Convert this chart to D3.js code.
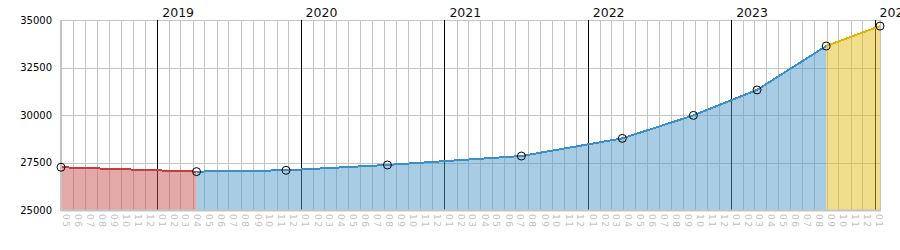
<!DOCTYPE html>
<html>
<head>
<meta charset="utf-8">
<script src="https://cdn.jsdelivr.net/npm/d3@7"></script>
<style>
  body { margin: 0; background: #fff; }
  svg { display: block; font-family: "DejaVu Sans", Verdana, sans-serif; }
</style>
</head>
<body>
<div id="vis"></div>
<script>
(function () {
  'use strict';

  var DATES = ['2018-05-01', '2019-04-11', '2019-11-25', '2020-08-09', '2021-07-16',
               '2022-03-30', '2022-09-27', '2023-03-08', '2023-08-31', '2024-01-15'];
  var VALUES = [27250, 27020, 27090, 27370, 27840, 28770, 29980, 31320, 33630, 34680];
  // each segment covers a range of point indices
  var SEGMENTS = [
    { from: 0, to: 1, line: '#c83c3c', fill: '#c75151' },
    { from: 1, to: 8, line: '#3a8fc6', fill: '#5199c9' },
    { from: 8, to: 9, line: '#e6b400', fill: '#e1bd19' }
  ];
  var Y_TICKS = [25000, 27500, 30000, 32500, 35000];
  var X_START = '2018-05-01';
  var X_END = '2024-01-15';

  var WIDTH = 900;
  var HEIGHT = 250;
  var LEFT = 61, RIGHT = 880, TOP = 20, BOTTOM = 210;
  var GRID = '#c4c4c4';

  var parse = d3.timeParse('%Y-%m-%d');
  var points = DATES.map(function (d, i) { return { date: parse(d), value: VALUES[i] }; });

  var x = d3.scaleTime().domain([parse(X_START), parse(X_END)]).range([LEFT, RIGHT]);
  var y = d3.scaleLinear().domain([25000, 35000]).range([BOTTOM, TOP]);

  var months = d3.timeMonth.range(parse(X_START), d3.timeDay.offset(parse(X_END), 1));
  var years = months.filter(function (m) { return m.getMonth() === 0; });

  var svg = d3.select('#vis').append('svg')
    .attr('width', WIDTH)
    .attr('height', HEIGHT);

  // grid
  var grid = svg.append('g');
  grid.selectAll('line.h').data(Y_TICKS).enter().append('line')
    .attr('x1', LEFT).attr('x2', RIGHT)
    .attr('y1', function (d) { return Math.round(y(d)) + 0.5; })
    .attr('y2', function (d) { return Math.round(y(d)) + 0.5; })
    .attr('stroke', GRID).attr('stroke-width', 1);
  grid.selectAll('line.m').data(months).enter().append('line')
    .attr('x1', function (d) { return Math.round(x(d)) + 0.5; })
    .attr('x2', function (d) { return Math.round(x(d)) + 0.5; })
    .attr('y1', TOP).attr('y2', BOTTOM)
    .attr('stroke', function (d) { return d.getMonth() === 0 ? '#000' : GRID; })
    .attr('stroke-width', 1);
  grid.append('line')
    .attr('x1', RIGHT + 0.5).attr('x2', RIGHT + 0.5).attr('y1', TOP).attr('y2', BOTTOM)
    .attr('stroke', GRID);

  // areas + lines
  var area = d3.area()
    .x(function (d) { return x(d.date); })
    .y0(BOTTOM)
    .y1(function (d) { return y(d.value); });
  var line = d3.line()
    .x(function (d) { return x(d.date); })
    .y(function (d) { return y(d.value); });

  SEGMENTS.forEach(function (s) {
    var seg = points.slice(s.from, s.to + 1);
    svg.append('path').datum(seg)
      .attr('d', area)
      .attr('fill', s.fill)
      .attr('fill-opacity', 0.5);
  });
  SEGMENTS.forEach(function (s) {
    var seg = points.slice(s.from, s.to + 1);
    svg.append('path').datum(seg)
      .attr('d', line)
      .attr('fill', 'none')
      .attr('stroke', s.line)
      .attr('stroke-width', 2)
      .attr('shape-rendering', 'crispEdges');
  });

  // frame: left and bottom
  svg.append('line').attr('x1', LEFT).attr('x2', LEFT).attr('y1', TOP).attr('y2', BOTTOM + 1)
    .attr('stroke', GRID).attr('stroke-width', 2);
  svg.append('line').attr('x1', LEFT).attr('x2', RIGHT + 1).attr('y1', BOTTOM + 0.5).attr('y2', BOTTOM + 0.5)
    .attr('stroke', GRID).attr('stroke-width', 2);

  // markers
  svg.selectAll('circle.pt').data(points).enter().append('circle')
    .attr('cx', function (d) { return x(d.date); })
    .attr('cy', function (d) { return y(d.value); })
    .attr('r', 4)
    .attr('fill', 'none')
    .attr('stroke', '#000')
    .attr('stroke-width', 1);

  // y axis
  var yAxis = svg.append('g')
    .attr('transform', 'translate(' + LEFT + ',0)')
    .call(d3.axisLeft(y).tickValues(Y_TICKS).tickSize(0).tickPadding(9).tickFormat(d3.format('d')));
  yAxis.select('.domain').remove();
  yAxis.selectAll('text')
    .attr('font-family', '"DejaVu Sans", sans-serif')
    .attr('font-size', 10)
    .attr('fill', '#000');

  // month labels, rotated
  var xAxis = svg.append('g')
    .attr('transform', 'translate(0,' + (BOTTOM + 4) + ')')
    .call(d3.axisBottom(x).tickValues(months).tickSize(0).tickFormat(d3.timeFormat('%m')));
  xAxis.select('.domain').remove();
  xAxis.selectAll('.tick text')
    .attr('font-family', '"DejaVu Sans", sans-serif')
    .attr('font-size', 9)
    .attr('letter-spacing', 1.4)
    .attr('fill', '#c0c0c0')
    .attr('text-anchor', 'start')
    .attr('x', 0).attr('y', 0)
    .attr('dy', '0.35em')
    .attr('transform', 'translate(4.5,0) rotate(90)');

  // year labels on top
  svg.selectAll('text.year').data(years).enter().append('text')
    .attr('x', function (d) { return x(d) + 5; })
    .attr('y', 17)
    .attr('font-size', 12.5)
    .attr('fill', '#111')
    .text(function (d) { return d.getFullYear(); });
})();
</script>
</body>
</html>
